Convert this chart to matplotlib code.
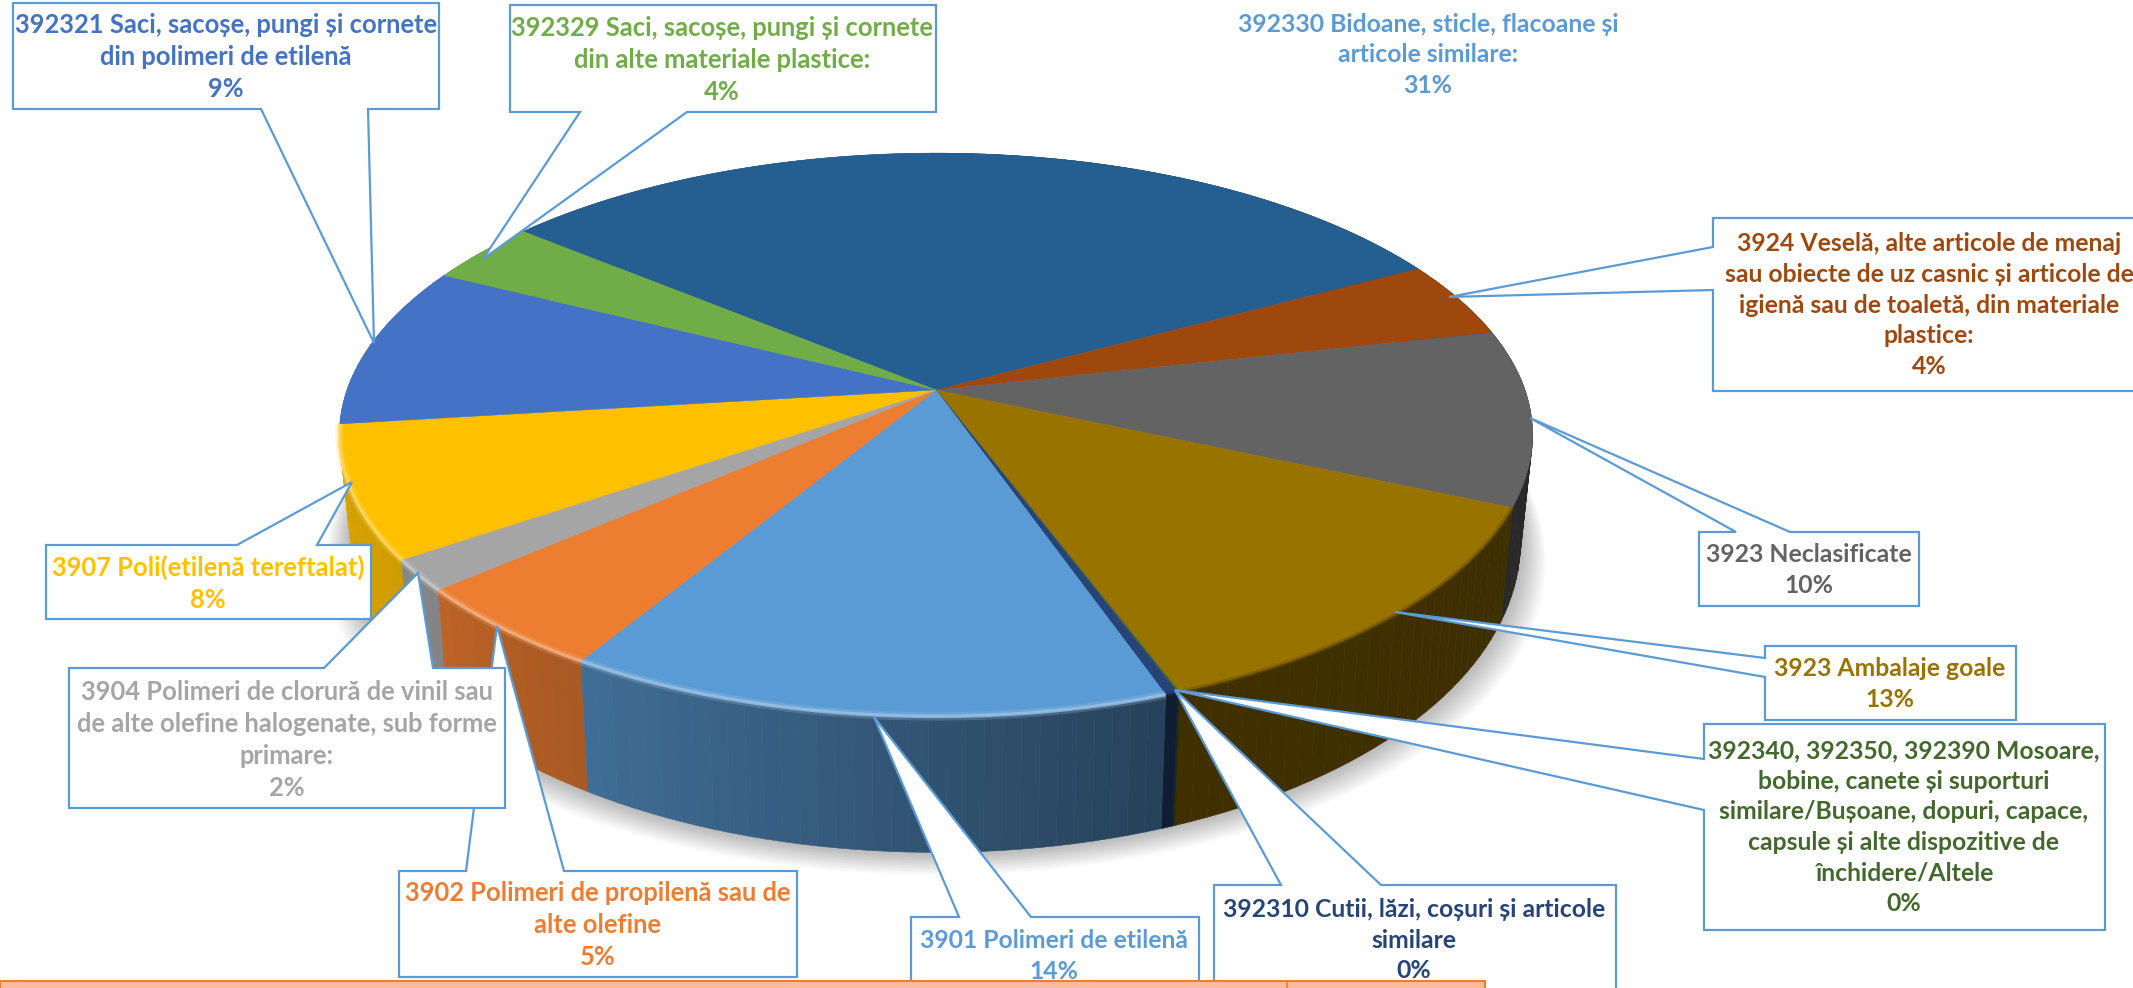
import numpy as np
import matplotlib
matplotlib.use("Agg")
import matplotlib.pyplot as plt
from matplotlib.patches import Polygon, Rectangle

# slices clockwise, starting at the boundary green / dark blue
slice_names = ["392330", "3924", "3923 N", "3923 A", "392340", "392310",
               "3901", "3902", "3904", "3907", "392321", "392329"]
slice_values = [31.15, 4.4, 10.05, 12.7, 0.05, 0.3, 14.1, 4.95, 1.8, 7.6, 9.3, 3.6]
slice_colors = ["#255E91", "#9E480E", "#636363", "#997300", "#43682B", "#264478",
                "#5B9BD5", "#ED7D31", "#A5A5A5", "#FFC000", "#4472C4", "#70AD47"]

label_392330 = "392330 Bidoane, sticle, flacoane și\narticole similare:\n31%"
label_3924 = ("3924 Veselă, alte articole de menaj\nsau obiecte de uz casnic și articole de\n"
              "igienă sau de toaletă, din materiale\nplastice:\n4%")
label_3923n = "3923 Neclasificate\n10%"
label_3923a = "3923 Ambalaje goale\n13%"
label_392340 = ("392340, 392350, 392390 Mosoare,\nbobine, canete și suporturi\n"
                "similare/Bușoane, dopuri, capace,\ncapsule și alte dispozitive de\n"
                "închidere/Altele\n0%")
label_392310 = "392310 Cutii, lăzi, coșuri și articole\nsimilare\n0%"
label_3901 = "3901 Polimeri de etilenă\n14%"
label_3902 = "3902 Polimeri de propilenă sau de\nalte olefine\n5%"
label_3904 = "3904 Polimeri de clorură de vinil sau\nde alte olefine halogenate, sub forme\nprimare:\n2%"
label_3907 = "3907 Poli(etilenă tereftalat)\n8%"
label_392321 = "392321 Saci, sacoșe, pungi și cornete\ndin polimeri de etilenă\n9%"
label_392329 = "392329 Saci, sacoșe, pungi și cornete\ndin alte materiale plastice:\n4%"

FONT = ["Lato", "Open Sans"]
EDGE = "#5B9BD5"
PX_LEFT, PX_RIGHT = 25.5, 24.7

# pie geometry, in pixels of the picture
CX, CY, RX, RY, PERSP = 936, 390, 589, 274.5, 0.159
START = 309.5


def rim(angle):
    t = np.radians(angle)
    u, v = np.sin(t), -np.cos(t)
    w = 1 - PERSP * v
    return CX + RX * u / w, CY + RY * v / w


def rim_low(angle):
    x, y = rim(angle)
    v = -np.cos(np.radians(angle))
    return CX + (x - CX) * 0.98, y + 100 + 36 * v


def wall_shade(angle):
    a = np.mod(angle, 360)
    return np.interp(a, [100, 160, 210, 230, 265, 300], [0.40, 0.42, 0.70, 0.80, 0.87, 0.87])


fig = plt.figure(figsize=(21.33, 9.88), dpi=100)
ax = fig.add_axes([0, 0, 1, 1])
ax.set_xlim(0, 2133)
ax.set_ylim(988, 0)
ax.axis("off")

edges = START + np.cumsum([0] + slice_values) * 360 / sum(slice_values)

# soft shadow under the pie
all_ang = np.linspace(0, 360, 361)
lx, ly = rim_low(all_ang)
for grow in np.linspace(28, 2, 14):
    ax.add_patch(Polygon(np.c_[CX + (lx - CX) * (1 + grow / 650), ly + grow * 0.8], closed=True,
                         fc="black", ec="none", alpha=0.018, zorder=1))

# side wall, strips sorted back to front
strips = []
for val, col, a0, a1 in zip(slice_values, slice_colors, edges[:-1], edges[1:]):
    n = max(int((a1 - a0) / 1.5), 1)
    bands = np.linspace(a0, a1, n + 1)
    for b0, b1 in zip(bands[:-1], bands[1:]):
        strips.append((b0, b1, col))
strips.sort(key=lambda s: -np.cos(np.radians((s[0] + s[1]) / 2)))
for b0, b1, col in strips:
    rgb = np.array(matplotlib.colors.to_rgb(col)) * wall_shade((b0 + b1) / 2)
    x0, y0 = rim(b0)
    x1, y1 = rim(b1)
    x2, y2 = rim_low(b1)
    x3, y3 = rim_low(b0)
    ax.add_patch(Polygon([(x0, y0), (x1, y1), (x2, y2), (x3, y3)], closed=True,
                         fc=rgb, ec=rgb, lw=0.4, zorder=2))

# top face
for col, a0, a1 in zip(slice_colors, edges[:-1], edges[1:]):
    ang = np.linspace(a0, a1, max(int(a1 - a0) * 2, 2))
    x, y = rim(ang)
    ax.add_patch(Polygon(np.r_[[[CX, CY]], np.c_[x, y]], closed=True, fc=col, ec=col, lw=0.3, zorder=3))
    # bevel along the front edge
    a_mod = np.mod((a0 + a1) / 2, 360)
    if 165 < a_mod < 270:
        light = 0.6 * np.array(matplotlib.colors.to_rgb(col)) + 0.4
        ax.plot(x, y, color=light, lw=2.5, alpha=0.8, zorder=4, solid_capstyle="butt")
        ax.plot(x, y, color=light, lw=6, alpha=0.25, zorder=4, solid_capstyle="butt")
    elif 100 < a_mod <= 165:
        ax.plot(x, y, color=np.array(matplotlib.colors.to_rgb(col)) * 0.7, lw=3, alpha=0.5,
                zorder=4, solid_capstyle="butt")

# callouts: outline points in pixels, then text centre
callouts = [
    ([(13, 3), (439, 3), (439, 109), (368, 109), (374, 343), (261, 109), (13, 109)], 226, 57, label_392321, "#4472C4", PX_LEFT),
    ([(510, 5), (936, 5), (936, 112), (687, 112), (483, 259), (580, 112), (510, 112)], 722, 60, label_392329, "#70AD47", PX_LEFT),
    ([(1713, 218), (2140, 218), (2140, 391), (1713, 391), (1713, 290), (1449, 297), (1713, 247)], 1929, 305, label_3924, "#9E480E", PX_RIGHT),
    ([(1699, 532), (1736, 532), (1530, 418), (1790, 532), (1919, 532), (1919, 606), (1699, 606)], 1809, 570, label_3923n, "#636363", PX_RIGHT),
    ([(1765, 646), (2016, 646), (2016, 720), (1765, 720), (1765, 677), (1395, 612), (1765, 658)], 1890, 684, label_3923a, "#997300", PX_RIGHT),
    ([(1704, 724), (2105, 724), (2105, 930), (1704, 930), (1704, 810), (1175, 690), (1704, 759)], 1904, 827, label_392340, "#43682B", PX_RIGHT),
    ([(1214, 885), (1281, 885), (1175, 690), (1381, 885), (1616, 885), (1616, 1000), (1214, 1000)], 1414, 940, label_392310, "#264478", PX_RIGHT),
    ([(911, 917), (959, 917), (874, 717), (1031, 917), (1199, 917), (1199, 1000), (911, 1000)], 1054, 956, label_3901, "#5B9BD5", PX_RIGHT),
    ([(399, 871), (466, 871), (497, 626), (564, 871), (797, 871), (797, 977), (399, 977)], 598, 925, label_3902, "#ED7D31", PX_LEFT),
    ([(69, 668), (324, 668), (418, 573), (433, 668), (505, 668), (505, 808), (69, 808)], 287, 740, label_3904, "#A5A5A5", PX_LEFT),
    ([(46, 545), (237, 545), (352, 482), (317, 545), (371, 545), (371, 619), (46, 619)], 208, 583, label_3907, "#FFC000", PX_LEFT),
]
for i, (pts, tx, ty, label, col, px) in enumerate(callouts):
    ax.add_patch(Polygon(pts, closed=True, fc="white", ec=EDGE, lw=1.6, joinstyle="miter", zorder=5 + i * 0.01))
    ax.text(tx, ty, label, ha="center", va="center", ma="center", family=FONT, weight="bold",
            color=col, fontsize=px * 0.72, linespacing=1.4, zorder=5.5 + i * 0.01)

ax.text(1428, 55, label_392330, ha="center", va="center", ma="center", family=FONT, weight="bold",
        color="#5B9BD5", fontsize=PX_RIGHT * 0.72, linespacing=1.4, zorder=6)

# edge of the table below the chart
ax.add_patch(Rectangle((0, 981), 1485, 10, fc="#F8BBA0", ec="#ED7D31", lw=1.5, zorder=7))
ax.plot([1287, 1287], [981, 990], color="#ED7D31", lw=1.2, zorder=7)

fig.savefig("out.png", dpi=100)
